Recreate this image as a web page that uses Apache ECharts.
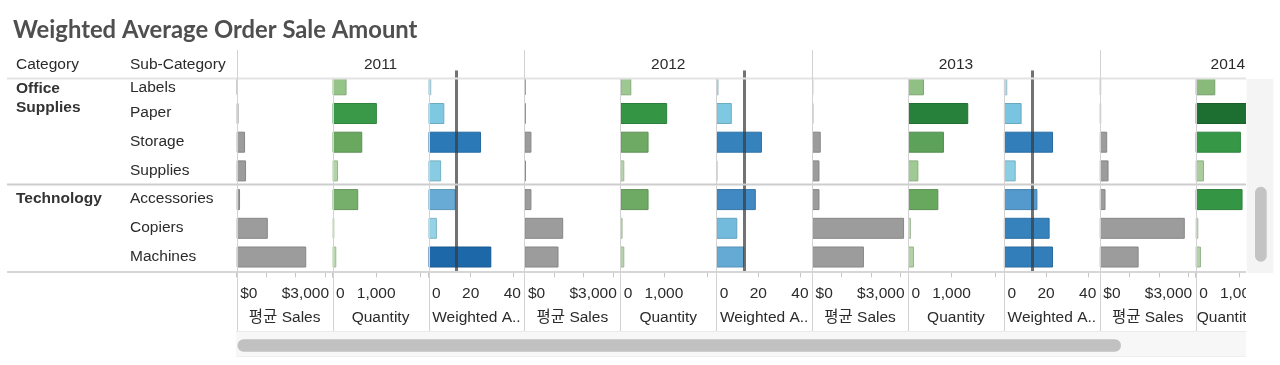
<!DOCTYPE html>
<html><head><meta charset="utf-8">
<script src="https://cdn.jsdelivr.net/npm/echarts@6/dist/echarts.min.js"></script>
<style>html,body{margin:0;padding:0;background:#fff}#c{width:1280px;height:365px}</style>
</head><body><div id="c"></div>
<script>
// ---------------- data ----------------
const title = 'Weighted Average Order Sale Amount';
const years = ['2011', '2012', '2013', '2014'];
const categories = ['Office Supplies', 'Technology'];
const categoryFirstRow = [0, 4];
const subCategories = ['Labels', 'Paper', 'Storage', 'Supplies', 'Accessories', 'Copiers', 'Machines'];
const measures = ['평균 Sales', 'Quantity', 'Weighted A..'];

const sales2011 = [40, 60, 283, 317, 113, 1054, 2357];
const sales2012 = [40, 45, 238, 50, 238, 1315, 1156];
const sales2013 = [35, 40, 293, 250, 250, 3117, 1756];
const sales2014 = [45, 45, 250, 296, 194, 2880, 1316];

const quantity2011 = [320, 1016, 680, 124, 588, 40, 85];
const quantity2012 = [252, 1075, 648, 92, 648, 53, 92];
const quantity2013 = [366, 1382, 824, 238, 696, 69, 137];
const quantity2014 = [449, 1700, 1037, 190, 1075, 60, 121];

const weighted2011 = [1.3, 7.5, 24.9, 6.0, 12.8, 4.0, 29.8];
const weighted2012 = [1.1, 7.4, 21.7, 0.6, 18.8, 10.0, 13.3];
const weighted2013 = [1.6, 8.4, 23.3, 5.6, 15.9, 21.7, 23.3];
const weightedReference = [13.4, 13.2, 13.5];

const salesTickValues = [0, 3000];
const salesTickLabels = ['$0', '$3,000'];
const quantityTickValues = [0, 1000];
const quantityTickLabels = ['0', '1,000'];
const weightedTickValues = [0, 20, 40];
const weightedTickLabels = ['0', '20', '40'];

const salesByYear = [sales2011, sales2012, sales2013, sales2014];
const quantityByYear = [quantity2011, quantity2012, quantity2013, quantity2014];
const weightedByYear = [weighted2011, weighted2012, weighted2013];

// ---------------- layout / style ----------------
const FONT = '"Liberation Sans", "Noto Sans CJK KR", Arial, sans-serif';
const FS = 15.5;
const TXT = '#2b2b2b';
const X0 = 236.7, PW = 95.9, TOP = 70.45, PITCH = 28.7, NROW = subCategories.length;
const VIEW_RIGHT = 1246;

const measureAxis = [
  {max: 3250, interval: 1000, ticks: salesTickValues, labels: salesTickLabels, kind: 'gray'},
  {max: 2200, interval: 1000, ticks: quantityTickValues, labels: quantityTickLabels, kind: 'green'},
  {max: 45.5, interval: 20, ticks: weightedTickValues, labels: weightedTickLabels, kind: 'blue'}
];
const dataByMeasure = [salesByYear, quantityByYear, weightedByYear];

const ctx = document.createElement('canvas').getContext('2d');
function textWidth(s, size, weight) {
  ctx.font = (weight || 'normal') + ' ' + size + 'px ' + FONT;
  return ctx.measureText(s).width;
}
function hex(h) { return [1, 3, 5].map(i => parseInt(h.substr(i, 2), 16)); }
function toHex(c) { return '#' + c.map(x => Math.round(Math.max(0, Math.min(255, x))).toString(16).padStart(2, '0')).join(''); }
function scale(stops, v) {
  if (v <= stops[0][0]) return stops[0][1];
  for (let i = 1; i < stops.length; i++) {
    if (v <= stops[i][0]) {
      const t = (v - stops[i - 1][0]) / (stops[i][0] - stops[i - 1][0]);
      const a = hex(stops[i - 1][1]), b = hex(stops[i][1]);
      return toHex(a.map((x, k) => x + (b[k] - x) * t));
    }
  }
  return stops[stops.length - 1][1];
}
function darker(c, f) { return toHex(hex(c).map(x => x * (1 - f))); }
const blueStops = [[0, '#bde4ef'], [4, '#95d2e5'], [8, '#7bc6e1'], [13, '#67abd6'], [19, '#3f88c2'], [25, '#2b7ab7'], [30, '#1b67a8']];
const greenStops = [[0, '#d2e7ca'], [100, '#b4d6a8'], [300, '#97c48a'], [450, '#89ba7c'], [600, '#74ad69'], [700, '#67a75e'], [830, '#5ca25a'], [1030, '#369847'], [1380, '#27813b'], [1700, '#1c6e31']];
function styleFor(kind, v) {
  let c;
  if (kind === 'gray') c = '#9c9c9c';
  else if (kind === 'green') c = scale(greenStops, v);
  else c = scale(blueStops, v);
  return {color: c, borderColor: darker(c, 0.14), borderWidth: 1};
}

function tickLabelCfg(ax) {
  const rich = {}, map = {};
  ax.ticks.forEach((v, k) => {
    const s = ax.labels[k];
    const w = textWidth(s, FS);
    const tx = v / ax.max * PW;
    let c = tx;
    if (v === 0) c = tx + 3.5 + w / 2;
    else if (tx + w / 2 > PW - 3.5) c = PW - 3.5 - w / 2;
    const shift = c - tx;
    rich['t' + k] = {fontSize: FS, fontFamily: FONT, color: TXT,
      padding: shift >= 0 ? [0, 0, 0, 2 * shift] : [0, -2 * shift, 0, 0]};
    map[v] = '{t' + k + '|' + s + '}';
  });
  return {rich, formatter: v => (map[v] !== undefined ? map[v] : '')};
}

const grid = [], xAxis = [], yAxis = [], series = [];
years.forEach((yr, yi) => {
  measures.forEach((mName, mi) => {
    const vals = dataByMeasure[mi][yi];
    if (!vals) return;
    const i = yi * 3 + mi;
    const gi = grid.length;
    const ax = measureAxis[mi];
    const left = X0 + i * PW;
    grid.push({left, top: TOP, width: PW, height: NROW * PITCH, containLabel: false, outerBoundsMode: 'none'});
    const lab = tickLabelCfg(ax);
    // axis title: centred in the pane, or pinned to the pane's left edge when the pane is cut by the view
    const nw = textWidth(mName, FS);
    let nameShift = 0;
    if (left + PW / 2 + nw / 2 > VIEW_RIGHT) nameShift = (left + 1 + nw / 2) - (left + PW / 2);
    xAxis.push({
      type: 'value', gridIndex: gi, min: 0, max: ax.max, interval: ax.interval, z: 10,
      axisLine: {show: false}, splitLine: {show: false},
      axisTick: {show: true, length: 6, lineStyle: {color: '#c4c4c4', width: 1}},
      axisLabel: {show: true, margin: 15, formatter: lab.formatter, rich: lab.rich, fontSize: FS, fontFamily: FONT, color: TXT,
        showMinLabel: true, showMaxLabel: true, hideOverlap: false},
      name: '{n|' + mName + '}', nameLocation: 'middle', nameGap: 38.5,
      nameTextStyle: {fontSize: FS, fontFamily: FONT, color: TXT,
        rich: {n: {fontSize: FS, fontFamily: FONT, color: TXT,
          padding: nameShift >= 0 ? [0, 0, 0, 2 * nameShift] : [0, -2 * nameShift, 0, 0]}}}
    });
    yAxis.push({
      type: 'category', gridIndex: gi, data: subCategories, inverse: true, z: 10,
      axisLine: {show: false}, axisTick: {show: false}, splitLine: {show: false},
      axisLabel: gi === 0 ? {
        show: true, align: 'left', margin: X0 - 130, fontSize: FS, fontFamily: FONT, color: TXT,
        formatter: (v, idx) => (idx === 0 ? '{f|' + v + '}' : '{n|' + v + '}'),
        rich: {
          f: {fontSize: FS, fontFamily: FONT, color: TXT, padding: [6, 0, 0, 0]},
          n: {fontSize: FS, fontFamily: FONT, color: TXT, padding: [0, 0, 1, 0]}
        }
      } : {show: false}
    });
    const s = {
      type: 'bar', xAxisIndex: gi, yAxisIndex: gi, barWidth: 21, silent: true, animation: false, z: 2,
      data: vals.map(v => ({value: v, itemStyle: styleFor(ax.kind, v)}))
    };
    if (mi === 2) {
      s.markLine = {silent: true, symbol: ['none', 'none'], label: {show: false}, animation: false,
        lineStyle: {color: 'rgba(60,60,60,0.72)', width: 3, type: 'solid'},
        data: [{xAxis: weightedReference[yi]}]};
    }
    series.push(s);
  });
});

// ---------------- decoration (headers, separators, scrollbars) ----------------
const g = [];
function line(x1, y1, x2, y2, color, w, z) {
  g.push({type: 'line', z: z || 15, silent: true, shape: {x1, y1, x2, y2}, style: {stroke: color, lineWidth: w}});
}
function text(str, x, y, opt) {
  g.push({type: 'text', z: opt.z || 15, silent: true, x, y,
    style: Object.assign({text: str, fill: TXT, fontSize: FS, fontFamily: FONT, verticalAlign: 'middle',
      textAlign: opt.align || 'left', textVerticalAlign: 'middle'}, opt.style || {}, {align: opt.align || 'left'})});
}
// clip top of first (partially scrolled) row
g.push({type: 'rect', z: 5, silent: true, shape: {x: X0 - 1, y: 55, width: VIEW_RIGHT - X0 + 2, height: 79 - 55}, style: {fill: '#fff'}});
// horizontal rules
line(7, 78.5, VIEW_RIGHT, 78.5, '#e3e3e3', 2);
line(7, TOP + 4 * PITCH - 0.8, VIEW_RIGHT, TOP + 4 * PITCH - 0.8, '#cdcdcd', 2);
line(7, 272, VIEW_RIGHT, 272, '#d6d6d6', 2);
// vertical separators
for (let i = 0; i < 12; i++) {
  const x = Math.round(X0 + i * PW) + 0.5;
  line(x, i % 3 === 0 ? 50 : 79, x, 331, '#d2d2d2', 1);
}
// headers
text('Category', 16, 64.5, {});
text('Sub-Category', 130, 64.5, {});
years.forEach((yr, yi) => {
  const c = X0 + (yi * 3 + 1.5) * PW;
  const w = textWidth(yr, FS);
  if (c + w / 2 > VIEW_RIGHT - 1) text(yr, VIEW_RIGHT - 1, 64.5, {align: 'right', z: 25});
  else text(yr, c, 64.5, {align: 'center'});
});
categories.forEach((name, ci) => {
  const y = TOP + (categoryFirstRow[ci] + 0.5) * PITCH;
  const bold = {fontWeight: 'bold', fill: '#333'};
  if (textWidth(name, FS, 'bold') > 100) {
    const parts = name.split(' ');
    text(parts[0], 16, y + 4, {style: bold});
    text(parts.slice(1).join(' '), 16, y + 23, {style: bold});
  } else {
    text(name, 16, y - 0.5, {style: bold});
  }
});
// title
text(title, 13, 30.5, {style: {fontSize: 23.8, fontWeight: 'bold', fontFamily: 'Lato, "Open Sans", sans-serif', fill: '#4f4f4f'}});
// right clip (viewport edge) + vertical scrollbar
g.push({type: 'rect', z: 20, silent: true, shape: {x: VIEW_RIGHT, y: 0, width: 1280 - VIEW_RIGHT, height: 365}, style: {fill: '#fff'}});
g.push({type: 'rect', z: 21, silent: true, shape: {x: 1246.7, y: 79, width: 26.6, height: 194}, style: {fill: '#f4f4f4'}});
g.push({type: 'rect', z: 22, silent: true, shape: {x: 1255, y: 186.7, width: 11.7, height: 75, r: 5.8}, style: {fill: '#c3c3c3'}});
// horizontal scrollbar
g.push({type: 'rect', z: 21, silent: true, shape: {x: X0 - 0.7, y: 331, width: VIEW_RIGHT - X0 + 0.7, height: 26}, style: {fill: '#f7f7f7'}});
line(X0 - 0.7, 331.5, VIEW_RIGHT, 331.5, '#ebebeb', 1, 22);
line(X0 - 0.7, 356.5, VIEW_RIGHT, 356.5, '#efefef', 1, 22);
g.push({type: 'rect', z: 22, silent: true, shape: {x: 237.5, y: 339.3, width: 883.5, height: 12.4, r: 6.2}, style: {fill: '#c1c1c1'}});

const chart = echarts.init(document.getElementById('c'), null, {renderer: 'canvas', width: 1280, height: 365});
chart.setOption({
  animation: false,
  backgroundColor: '#fff',
  grid, xAxis, yAxis, series,
  graphic: {elements: g}
});
</script>
</body></html>
